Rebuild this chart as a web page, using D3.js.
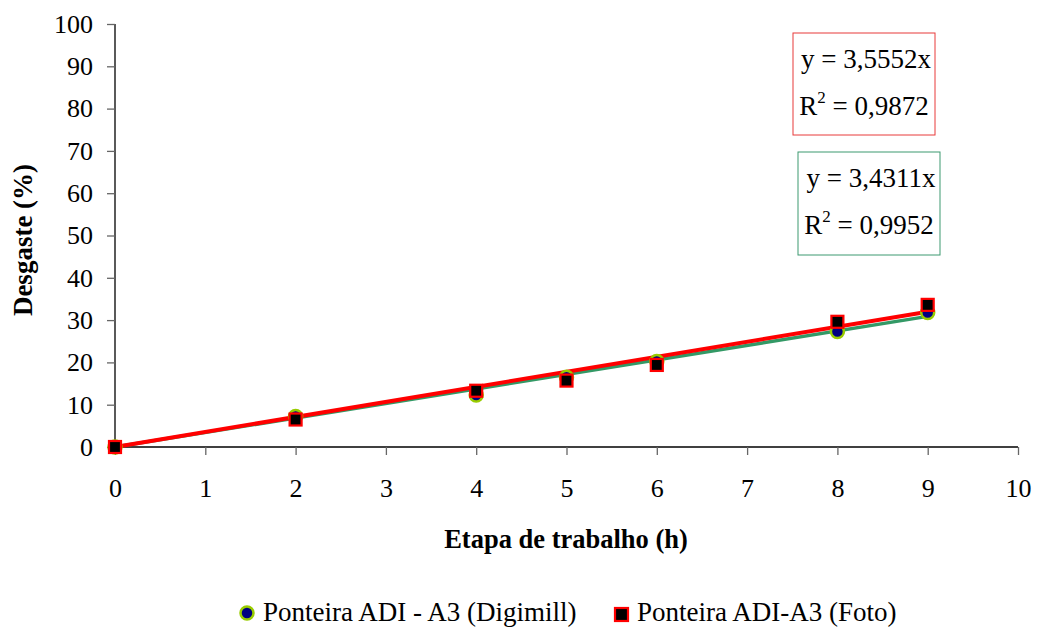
<!DOCTYPE html>
<html><head><meta charset="utf-8">
<script src="https://cdn.jsdelivr.net/npm/d3@7"></script>
<style>body{margin:0;background:#fff}text{font-family:"Liberation Serif","Times New Roman",serif;fill:#000}</style>
</head><body><svg id="c" width="1037" height="628"></svg>
<script>
const hours = [0, 2, 4, 5, 6, 8, 9];
const digimill = [0, 7.2, 12.3, 16.5, 20.2, 27.3, 31.8];
const foto = [0, 6.5, 13.3, 15.7, 19.4, 29.6, 33.6];
const xTicks = [0,1,2,3,4,5,6,7,8,9,10];
const yTicks = [0,10,20,30,40,50,60,70,80,90,100];
const slopeDigimill = 3.4311, r2Digimill = "0,9952";
const slopeFoto = 3.5552, r2Foto = "0,9872";

const svg = d3.select("#c");
const x = d3.scaleLinear().domain([0,10]).range([115,1018]);
const y = d3.scaleLinear().domain([0,100]).range([447,24]);

// axes
const ya = svg.append("g").attr("transform","translate(115,0)")
  .call(d3.axisLeft(y).tickValues(yTicks).tickSize(8).tickPadding(14).tickFormat(d3.format("d")));
const xa = svg.append("g").attr("transform","translate(0,447)")
  .call(d3.axisBottom(x).tickValues(xTicks).tickSize(8).tickPadding(24).tickFormat(d3.format("d")));
[ya,xa].forEach(a=>{
  a.select(".domain").attr("stroke","#000").attr("stroke-width",1.3);
  a.selectAll(".tick line").attr("stroke","#666").attr("stroke-width",1.3);
  a.selectAll(".tick text").style("font-size","26px").style("font-family",'"Liberation Serif",serif');
});
ya.select(".domain").attr("d","M0,447V24");
xa.select(".domain").attr("d","M115,0H1018");

// trend lines
const line = d3.line().x(d=>x(d[0])).y(d=>y(d[1]));
svg.append("path").datum([[0,0],[9,9*slopeDigimill]]).attr("d",line)
  .attr("stroke","#339966").attr("stroke-width",3.5).attr("fill","none");
svg.append("path").datum([[0,0],[9,9*slopeFoto]]).attr("d",line)
  .attr("stroke","#ff0000").attr("stroke-width",4).attr("fill","none");

// markers
svg.append("g").selectAll("circle").data(hours.map((h,i)=>[h,digimill[i]])).join("circle")
  .attr("cx",d=>x(d[0])).attr("cy",d=>y(d[1])).attr("r",6.5)
  .attr("fill","#000080").attr("stroke","#99cc00").attr("stroke-width",2.5);
svg.append("g").selectAll("rect").data(hours.map((h,i)=>[h,foto[i]])).join("rect")
  .attr("x",d=>x(d[0])-6).attr("y",d=>y(d[1])-6).attr("width",12).attr("height",12)
  .attr("fill","#000").attr("stroke","#ff0000").attr("stroke-width",2.2);

// axis titles
svg.append("text").attr("x",566).attr("y",548).attr("text-anchor","middle")
  .style("font-size","26.5px").style("font-weight","bold").text("Etapa de trabalho (h)");
svg.append("text").attr("transform","translate(32,240) rotate(-90)").attr("text-anchor","middle")
  .style("font-size","27px").style("font-weight","bold").text("Desgaste (%)");

// equation boxes
function eqBox(x0,y0,w,h,color,slope,r2){
  svg.append("rect").attr("x",x0).attr("y",y0).attr("width",w).attr("height",h)
    .attr("fill","#fff").attr("stroke",color).attr("stroke-width",1);
  svg.append("text").attr("x",x0+w/2+2).attr("y",y0+35).attr("text-anchor","middle")
    .style("font-size","27px").text("y = "+String(slope).replace(".",",")+"x");
  const t = svg.append("text").attr("x",x0+w/2).attr("y",y0+82).attr("text-anchor","middle").style("font-size","27px");
  t.append("tspan").text("R");
  t.append("tspan").attr("dy",-12).style("font-size","17px").text("2");
  t.append("tspan").attr("dy",12).text(" = "+r2);
}
eqBox(793,33,142,102,"#e83a3a",slopeFoto,r2Foto);
eqBox(798,152,142,103,"#3d9970",slopeDigimill,r2Digimill);

// legend
const lg = svg.append("g");
lg.append("circle").attr("cx",247).attr("cy",613).attr("r",6.5)
  .attr("fill","#000080").attr("stroke","#99cc00").attr("stroke-width",2.5);
lg.append("text").attr("x",263).attr("y",621).style("font-size","27px").text("Ponteira ADI - A3 (Digimill)");
lg.append("rect").attr("x",615).attr("y",608).attr("width",13).attr("height",13)
  .attr("fill","#000").attr("stroke","#ff0000").attr("stroke-width",2.2);
lg.append("text").attr("x",637).attr("y",621).style("font-size","27px").text("Ponteira ADI-A3 (Foto)");
</script></body></html>
